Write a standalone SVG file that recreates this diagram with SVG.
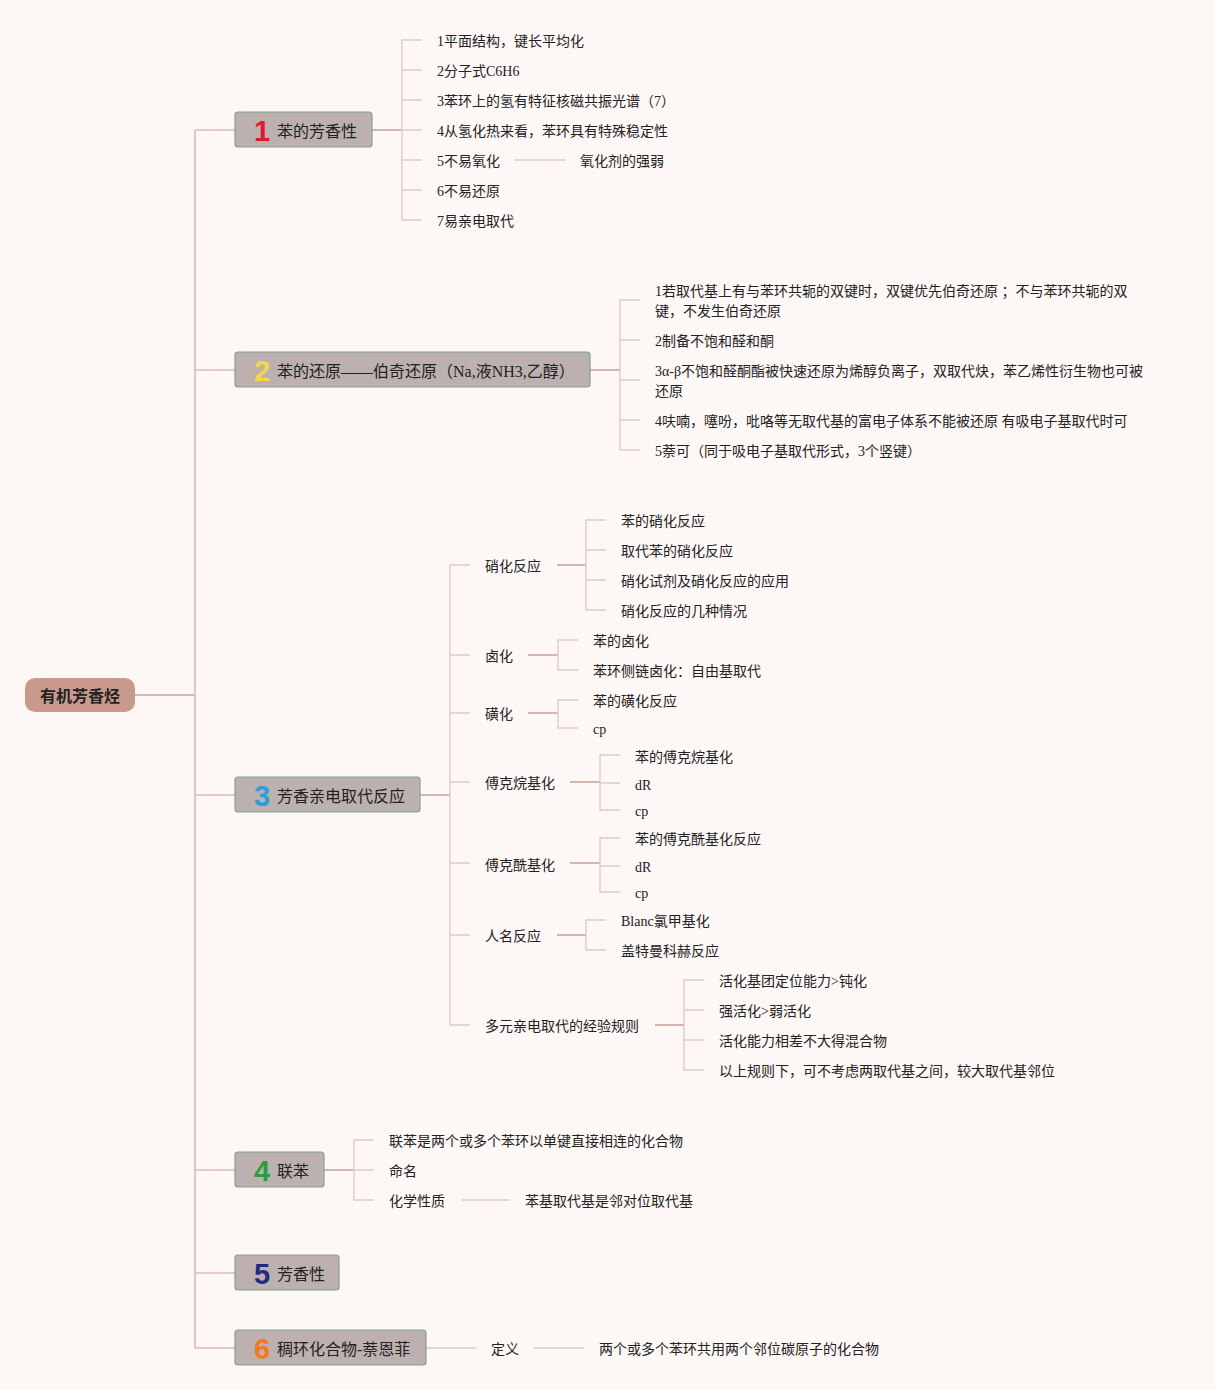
<svg xmlns="http://www.w3.org/2000/svg" width="1215" height="1390" viewBox="0 0 1215 1390">
<style>
.bg{fill:#fdf7f6}
.dk{fill:none;stroke:#c9a49a;stroke-width:1.6}
.lt{fill:none;stroke:#e0cbc4;stroke-width:1.4}
.tr{fill:none;stroke:#d9bdb5;stroke-width:1.6}
.t{font-family:"Liberation Serif","Noto Sans CJK SC",serif;font-size:14px;fill:#222;dominant-baseline:central}
.m{font-family:"Liberation Serif","Noto Sans CJK SC",serif;font-size:16px;fill:#222;dominant-baseline:central}
.box{fill:#bcb1af;stroke:#7fa393;stroke-width:1.2}
.num{font-family:"Liberation Sans","DejaVu Sans",sans-serif;font-size:29px;font-weight:bold;text-anchor:middle;dominant-baseline:central}
</style>
<rect class="bg" x="0" y="0" width="1215" height="1390"/>
<g id="connectors">
<path class="dk" d="M135,695 H195"/>
<path class="tr" d="M195,130 V1348 M195,130 H235 M195,370 H235 M195,795 H235 M195,1170 H235 M195,1273 H235 M195,1348 H235"/>
<path class="dk" d="M372,130 H402"/>
<path class="lt" d="M422,40 H402 V220 H422 M402,70 H422 M402,100 H422 M402,130 H422 M402,160 H422 M402,190 H422 M515,160 H565"/>
<path class="dk" d="M590,370 H620"/>
<path class="lt" d="M640,300 H620 V450 H640 M620,340 H640 M620,380 H640 M620,420 H640"/>
<path class="dk" d="M420,795 H450"/>
<path class="lt" d="M470,565 H450 V1025 H470 M450,655 H470 M450,713 H470 M450,782 H470 M450,863 H470 M450,935 H470"/>
<path class="dk" d="M557,565 H586"/>
<path class="lt" d="M606,520 H586 V610 H606 M586,550 H606 M586,580 H606"/>
<path class="dk" d="M528,655 H558"/>
<path class="lt" d="M578,640 H558 V670 H578"/>
<path class="dk" d="M528,713 H558"/>
<path class="lt" d="M578,700 H558 V728 H578"/>
<path class="dk" d="M570,782 H600"/>
<path class="lt" d="M620,755 H600 V810 H620 M600,783 H620"/>
<path class="dk" d="M570,863 H600"/>
<path class="lt" d="M620,838 H600 V892 H620 M600,866 H620"/>
<path class="dk" d="M557,935 H586"/>
<path class="lt" d="M606,920 H586 V950 H606"/>
<path class="dk" d="M655,1025 H684"/>
<path class="lt" d="M704,980 H684 V1070 H704 M684,1010 H704 M684,1040 H704"/>
<path class="dk" d="M324,1170 H354"/>
<path class="lt" d="M374,1140 H354 V1200 H374 M354,1170 H374 M461,1200 H510"/>
<path class="lt" d="M426,1348 H476 M534,1348 H584"/>
</g>
<g id="root">
<rect x="25" y="678" width="110" height="34" rx="10" fill="#c9998c"/>
<text x="80" y="695" text-anchor="middle" style="font-family:'Noto Sans CJK SC',sans-serif;font-size:16px;font-weight:bold;fill:#222;dominant-baseline:central">有机芳香烃</text>
</g>
<g id="topic1">
<rect class="box" x="235" y="112" width="137" height="35" rx="3"/>
<text class="num" x="262" y="131" fill="#e01a2c">1</text>
<text class="m" x="277" y="131">苯的芳香性</text>
</g>
<g id="t1-children">
<text class="t" x="437" y="41">1平面结构，键长平均化</text>
<text class="t" x="437" y="71">2分子式C6H6</text>
<text class="t" x="437" y="101">3苯环上的氢有特征核磁共振光谱（7）</text>
<text class="t" x="437" y="131">4从氢化热来看，苯环具有特殊稳定性</text>
<text class="t" x="437" y="161">5不易氧化</text>
<text class="t" x="580" y="161">氧化剂的强弱</text>
<text class="t" x="437" y="191">6不易还原</text>
<text class="t" x="437" y="221">7易亲电取代</text>
</g>
<g id="topic2">
<rect class="box" x="235" y="352" width="355" height="35" rx="3"/>
<text class="num" x="262" y="371" fill="#f2d84a">2</text>
<text class="m" x="277" y="371">苯的还原——伯奇还原（Na,液NH3,乙醇）</text>
</g>
<g id="t2-children">
<text class="t" x="655" y="291">1若取代基上有与苯环共轭的双键时，双键优先伯奇还原 ；不与苯环共轭的双</text>
<text class="t" x="655" y="311">键，不发生伯奇还原</text>
<text class="t" x="655" y="341">2制备不饱和醛和酮</text>
<text class="t" x="655" y="371">3α-β不饱和醛酮酯被快速还原为烯醇负离子，双取代炔，苯乙烯性衍生物也可被</text>
<text class="t" x="655" y="391">还原</text>
<text class="t" x="655" y="421">4呋喃，噻吩，吡咯等无取代基的富电子体系不能被还原 有吸电子基取代时可</text>
<text class="t" x="655" y="451">5萘可（同于吸电子基取代形式，3个竖键）</text>
</g>
<g id="topic3">
<rect class="box" x="235" y="777" width="185" height="35" rx="3"/>
<text class="num" x="262" y="796" fill="#2a9de0">3</text>
<text class="m" x="277" y="796">芳香亲电取代反应</text>
</g>
<g id="t3-sub">
<text class="t" x="485" y="566">硝化反应</text>
<text class="t" x="621" y="521">苯的硝化反应</text>
<text class="t" x="621" y="551">取代苯的硝化反应</text>
<text class="t" x="621" y="581">硝化试剂及硝化反应的应用</text>
<text class="t" x="621" y="611">硝化反应的几种情况</text>
<text class="t" x="485" y="656">卤化</text>
<text class="t" x="593" y="641">苯的卤化</text>
<text class="t" x="593" y="671">苯环侧链卤化：自由基取代</text>
<text class="t" x="485" y="714">磺化</text>
<text class="t" x="593" y="701">苯的磺化反应</text>
<text class="t" x="593" y="729">cp</text>
<text class="t" x="485" y="783">傅克烷基化</text>
<text class="t" x="635" y="757">苯的傅克烷基化</text>
<text class="t" x="635" y="785">dR</text>
<text class="t" x="635" y="811">cp</text>
<text class="t" x="485" y="865">傅克酰基化</text>
<text class="t" x="635" y="839">苯的傅克酰基化反应</text>
<text class="t" x="635" y="867">dR</text>
<text class="t" x="635" y="893">cp</text>
<text class="t" x="485" y="936">人名反应</text>
<text class="t" x="621" y="921">Blanc氯甲基化</text>
<text class="t" x="621" y="951">盖特曼科赫反应</text>
<text class="t" x="485" y="1026">多元亲电取代的经验规则</text>
<text class="t" x="719" y="981">活化基团定位能力&gt;钝化</text>
<text class="t" x="719" y="1011">强活化&gt;弱活化</text>
<text class="t" x="719" y="1041">活化能力相差不大得混合物</text>
<text class="t" x="719" y="1071">以上规则下，可不考虑两取代基之间，较大取代基邻位</text>
</g>
<g id="topic4">
<rect class="box" x="235" y="1152" width="89" height="35" rx="3"/>
<text class="num" x="262" y="1171" fill="#2e9c3a">4</text>
<text class="m" x="277" y="1171">联苯</text>
</g>
<g id="t4-children">
<text class="t" x="389" y="1141">联苯是两个或多个苯环以单键直接相连的化合物</text>
<text class="t" x="389" y="1171">命名</text>
<text class="t" x="389" y="1201">化学性质</text>
<text class="t" x="525" y="1201">苯基取代基是邻对位取代基</text>
</g>
<g id="topic5">
<rect class="box" x="235" y="1255" width="104" height="35" rx="3"/>
<text class="num" x="262" y="1274" fill="#1f2a80">5</text>
<text class="m" x="277" y="1274">芳香性</text>
</g>
<g id="topic6">
<rect class="box" x="235" y="1330" width="191" height="35" rx="3"/>
<text class="num" x="262" y="1349" fill="#f27a1a">6</text>
<text class="m" x="277" y="1349">稠环化合物-萘恩菲</text>
</g>
<g id="t6-children">
<text class="t" x="491" y="1349">定义</text>
<text class="t" x="599" y="1349">两个或多个苯环共用两个邻位碳原子的化合物</text>
</g>
</svg>
